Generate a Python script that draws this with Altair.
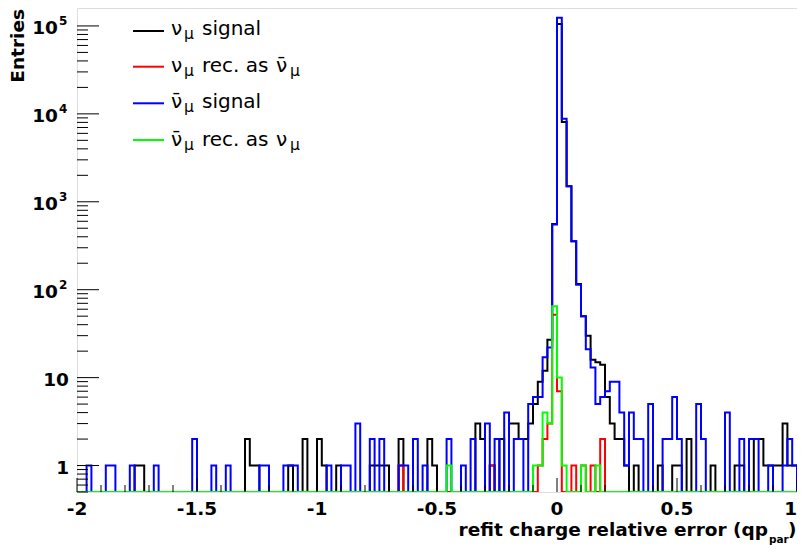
import altair as alt
import numpy as np
import pandas as pd

# ---------------- data (bin lower edges, counts of non-empty bins) -------------
X_LO, X_HI = -2.0, 1.0
Y_LO, Y_HI = 0.5, 1.6e5
BIN_W = 0.02
N_BINS = 151

numu_sig_x = [-1.76, -1.74, -1.30, -1.28, -1.26, -1.12, -1.06, -1.00, -0.98, -0.92,
              -0.78, -0.76, -0.74, -0.72, -0.66, -0.54, -0.52, -0.34, -0.32, -0.28,
              -0.24, -0.20, -0.18, -0.16, -0.14, -0.12, -0.10, -0.08, -0.06, -0.04,
              -0.02, 0.00, 0.02, 0.04, 0.06, 0.08, 0.10, 0.12, 0.14, 0.16,
              0.18, 0.20, 0.22, 0.24, 0.26, 0.28, 0.32, 0.42, 0.48, 0.50,
              0.54, 0.64, 0.74, 0.76, 0.82, 0.84, 0.86, 0.88, 0.90, 0.92,
              0.94, 0.96, 0.98]
numu_sig_n = [1, 1, 2, 1, 1, 1, 2, 2, 1, 1,
              1, 1, 1, 1, 2, 2, 1, 3, 2, 1,
              2, 3, 3, 2, 2, 3, 5, 9, 12, 27,
              560, 105000, 8100, 1500, 355, 116, 50, 30, 16, 15,
              14, 6, 3, 2, 2, 1, 1, 1, 1, 1,
              2, 1, 1, 1, 2, 2, 1, 1, 1, 1,
              3, 1, 1]

numu_wrong_x = [-0.66, -0.28, -0.08, -0.06, -0.04, -0.02, 0.00, 0.06, 0.10, 0.14, 0.18, 1.00]
numu_wrong_n = [1, 1, 1, 2, 3, 52, 7, 1, 1, 1, 2, 1]

anu_sig_x = [-1.96, -1.88, -1.86, -1.78, -1.68, -1.52, -1.44, -1.38, -1.24, -1.22,
             -1.14, -1.12, -1.10, -0.96, -0.90, -0.88, -0.84, -0.78, -0.74, -0.66,
             -0.64, -0.60, -0.56, -0.46, -0.40, -0.36, -0.30, -0.26, -0.22, -0.18,
             -0.16, -0.12, -0.10, -0.08, -0.06, -0.04, -0.02, 0.00, 0.02, 0.04,
             0.06, 0.08, 0.10, 0.12, 0.14, 0.16, 0.18, 0.20, 0.22, 0.24,
             0.26, 0.28, 0.30, 0.32, 0.34, 0.38, 0.44, 0.46, 0.48, 0.50,
             0.58, 0.60, 0.70, 0.76, 0.80, 0.82, 0.88, 0.94, 0.96, 0.98]
anu_sig_n = [1, 1, 1, 1, 1, 2, 1, 1, 1, 1,
             1, 1, 1, 1, 1, 1, 3, 2, 2, 1,
             1, 2, 1, 2, 1, 2, 3, 2, 4, 2,
             2, 5, 6, 6, 17, 22, 550, 124000, 8800, 1500,
             355, 114, 50, 21, 13, 5, 6, 7, 9, 9,
             4, 1, 4, 2, 2, 5, 2, 2, 6, 2,
             5, 2, 4, 2, 2, 2, 1, 1, 2, 1]

anu_wrong_x = [-0.46, -0.10, -0.08, -0.06, -0.04, -0.02, 0.00, 0.02, 0.10, 0.16]
anu_wrong_n = [1, 1, 1, 4, 3, 65, 10, 1, 1, 1]

series_colors = ["#000000", "#ff0000", "#0000ff", "#00ff00"]

x_tick_values = [-2, -1.5, -1, -0.5, 0, 0.5, 1]
x_tick_labels = ["-2", "-1.5", "-1", "-0.5", "0", "0.5", "1"]
y_label_values = [1, 10, 100, 1000, 10000, 100000]
y_label_exp = ["", "", "2", "3", "4", "5"]

# ---------------- layout -----------------------------------------------------
W, H = 720, 484
FONT = "DejaVu Sans"

xs = alt.Scale(domain=[X_LO, X_HI], nice=False, zero=False)
ys = alt.Scale(type="log", domain=[Y_LO, Y_HI], nice=False)


def hist_df(xv, nv):
    lookup = {round(a, 2): b for a, b in zip(xv, nv)}
    lo = [round(X_LO + BIN_W * i, 2) for i in range(N_BINS)]
    cnt = [lookup.get(e, 0) for e in lo]
    xx = lo + [round(lo[-1] + BIN_W, 2)]
    yy = cnt + [cnt[-1]]
    return pd.DataFrame({"x": xx, "n": [max(v, Y_LO) for v in yy]})


def hist_line(df, color):
    return alt.Chart(df).mark_line(
        interpolate="step-after", color=color, strokeWidth=2, clip=True
    ).encode(
        x=alt.X("x:Q", scale=xs, axis=None),
        y=alt.Y("n:Q", scale=ys, axis=None),
    )


series = [
    (numu_sig_x, numu_sig_n),
    (numu_wrong_x, numu_wrong_n),
    (anu_sig_x, anu_sig_n),
    (anu_wrong_x, anu_wrong_n),
]
lines = [hist_line(hist_df(xv, nv), col) for (xv, nv), col in zip(series, series_colors)]

# inward ticks (ROOT style)
minor_x = [round(-2 + 0.1 * i, 1) for i in range(31)]
xt = pd.DataFrame({"t": minor_x,
                   "len": [14 if abs(v * 2 - round(v * 2)) < 1e-9 else 7 for v in minor_x]})
xtick = alt.Chart(xt).transform_calculate(top=f"{H} - datum.len", bot=f"{H}").mark_rule(
    color="black", strokeWidth=1).encode(
    x=alt.X("t:Q", scale=xs, axis=None),
    y=alt.Y("top:Q", scale=None),
    y2=alt.Y2("bot:Q"),
)

# x tick labels
xl = pd.DataFrame({"v": x_tick_values, "t": x_tick_labels})
xlab = alt.Chart(xl).transform_filter(f"datum.v < {X_HI}").mark_text(
    font=FONT, fontWeight="bold", fontSize=18.5, align="center", baseline="alphabetic",
    color="black"
).encode(x=alt.X("v:Q", scale=xs, axis=None), y=alt.value(H + 23), text="t:N")
xlab_end = alt.Chart(xl).transform_filter(f"datum.v >= {X_HI}").mark_text(
    font=FONT, fontWeight="bold", fontSize=18.5, align="right", baseline="alphabetic",
    color="black"
).encode(x=alt.X("v:Q", scale=xs, axis=None), y=alt.value(H + 23), text="t:N")

yt_vals, yt_len = [], []
for d in range(-1, 6):
    for m in range(1, 10):
        v = m * 10 ** d
        if Y_LO <= v <= Y_HI:
            yt_vals.append(v)
            yt_len.append(22 if m == 1 else 11)
yt = pd.DataFrame({"v": yt_vals, "len": yt_len})
ytick = alt.Chart(yt).transform_calculate(x0="0").mark_rule(color="black", strokeWidth=1).encode(
    y=alt.Y("v:Q", scale=ys, axis=None),
    x=alt.X("x0:Q", scale=None),
    x2=alt.X2("len:Q"),
)

# y labels
yl = pd.DataFrame({"v": y_label_values, "e": y_label_exp,
                   "base": ["1", "10", "10", "10", "10", "10"]})
yl_plain = alt.Chart(yl).transform_filter("datum.e == ''").mark_text(
    font=FONT, fontWeight="bold", fontSize=18.5, align="right", baseline="middle", dy=2
).encode(y=alt.Y("v:Q", scale=ys, axis=None), x=alt.value(-8), text="base:N")
yl_base = alt.Chart(yl).transform_filter("datum.e != ''").mark_text(
    font=FONT, fontWeight="bold", fontSize=18.5, align="right", baseline="middle", dy=2
).encode(y=alt.Y("v:Q", scale=ys, axis=None), x=alt.value(-19), text="base:N")
yl_exp = alt.Chart(yl).transform_filter("datum.e != ''").mark_text(
    font=FONT, fontWeight="bold", fontSize=12, align="left", baseline="middle", dy=-5
).encode(y=alt.Y("v:Q", scale=ys, axis=None), x=alt.value(-18), text="e:N")

# titles
NU, NUB = "\u03bd", "\u03bd\u0304"
title_main = alt.Chart(pd.DataFrame({"px": [691], "py": [528],
                                     "t": ["refit charge relative error (qp"]})).mark_text(
    font=FONT, fontWeight="bold", fontSize=18.5, align="right", baseline="alphabetic", color="black"
).encode(x=alt.X("px:Q", scale=None), y=alt.Y("py:Q", scale=None), text="t:N")
title_bits = alt.Chart(pd.DataFrame({"px": [692, 711], "py": [534.5, 528], "t": ["par", ")"],
                                     "s": [10.5, 18.5]})).mark_text(
    font=FONT, fontWeight="bold", align="left", baseline="alphabetic", color="black"
).encode(x=alt.X("px:Q", scale=None), y=alt.Y("py:Q", scale=None), text="t:N",
         size=alt.Size("s:Q", scale=None))
ytitle = alt.Chart(pd.DataFrame({"px": [-59], "py": [1], "t": ["Entries"]})).mark_text(
    font=FONT, fontWeight="bold", fontSize=18.5, angle=270, align="right", baseline="middle",
    color="black"
).encode(x=alt.X("px:Q", scale=None), y=alt.Y("py:Q", scale=None), text="t:N")

# legend
row_y = [23, 58.7, 95.3, 132]
row_base = [27, 63.7, 100.3, 138]
leg_lines = pd.DataFrame({"x1": [56] * 4, "x2": [87] * 4, "y": row_y, "c": series_colors})
legend_lines = alt.Chart(leg_lines).mark_rule(strokeWidth=2).encode(
    x=alt.X("x1:Q", scale=None), x2=alt.X2("x2:Q"), y=alt.Y("y:Q", scale=None),
    color=alt.Color("c:N", scale=None),
)
pieces = []
first = [NU, NU, NUB, NUB]
rest = ["signal", "rec. as", "signal", "rec. as"]
tail = [None, NUB, None, NU]
for r in range(4):
    b = row_base[r]
    pieces.append({"px": 94, "py": b, "t": first[r], "s": 20})
    pieces.append({"px": 107, "py": b + 4, "t": "\u03bc", "s": 15.5})
    pieces.append({"px": 125, "py": b, "t": rest[r], "s": 20})
    if tail[r]:
        pieces.append({"px": 199, "py": b, "t": tail[r], "s": 20})
        pieces.append({"px": 213, "py": b + 4, "t": "\u03bc", "s": 15.5})
legend_text = alt.Chart(pd.DataFrame(pieces)).mark_text(
    font=FONT, align="left", baseline="alphabetic", color="black"
).encode(x=alt.X("px:Q", scale=None), y=alt.Y("py:Q", scale=None), text="t:N",
         size=alt.Size("s:Q", scale=None))

chart = alt.layer(
    *lines, xtick, ytick, xlab, xlab_end, yl_plain, yl_base, yl_exp, title_main, title_bits,
    ytitle, legend_lines, legend_text,
).properties(
    width=W, height=H,
    autosize=alt.AutoSizeParams(type="none"),
    padding={"left": 69, "top": 0, "right": 0, "bottom": 54},
).configure_view(stroke="black", strokeWidth=1.2).configure(background="white")

chart.save("out.html", embed_options={"renderer": "svg", "actions": False})
